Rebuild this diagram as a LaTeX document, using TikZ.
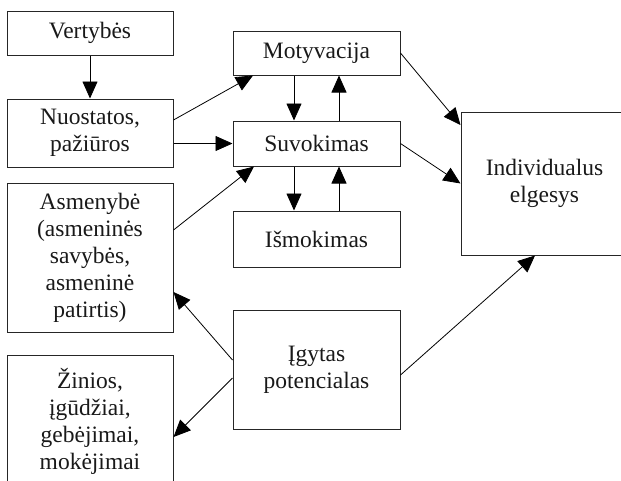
\documentclass[tikz,border=0pt]{standalone}
\usepackage{fontspec}
\setmainfont{Liberation Serif}
\usetikzlibrary{arrows.meta}
\begin{document}
\begin{tikzpicture}[x=1pt,y=-1pt,
  box/.style={draw=black!85, line width=1pt, inner sep=0pt, align=center,
    font=\fontsize{23.5}{27}\selectfont, text=black!90},
  arr/.style={line width=0.8pt, -{Triangle[length=17pt,width=15pt]}}]
\useasboundingbox (0,0) rectangle (621,480);
\clip (0,0) rectangle (621,480);
\node[box, minimum width=166, minimum height=44] (V) at (90,33) {Vertybės};
\node[box, minimum width=166, minimum height=68] (N) at (90,133) {Nuostatos,\\pažiūros};
\node[box, minimum width=166, minimum height=149] (A) at (90,257.5) {Asmenybė\\(asmeninės\\savybės,\\asmeninė\\patirtis)};
\node[box, minimum width=166, minimum height=132] (Z) at (90,421) {Žinios,\\įgūdžiai,\\gebėjimai,\\mokėjimai};
\node[box, minimum width=167, minimum height=44] (M) at (316.5,53) {Motyvacija};
\node[box, minimum width=167, minimum height=45] (S) at (316.5,143.5) {Suvokimas};
\node[box, minimum width=167, minimum height=56] (I) at (316.5,239) {Išmokimas};
\node[box, minimum width=167, minimum height=119] (G) at (316.5,369.5) {Įgytas\\potencialas};
\node[box, minimum width=167, minimum height=143] (E) at (544.5,183.5) {Individualus\\elgesys};
\draw[arr] (V.south) -- (N.north);
\draw[arr] ([yshift=13pt]N.east) -- ([xshift=-63.5pt]M.south);
\draw[arr] (N.east |- S.west) -- (S.west);
\draw[arr] ([yshift=27.5pt]A.east) -- ([xshift=-62.5pt]S.south);
\draw[arr] ([xshift=-22.5pt]M.south) -- ([xshift=-22.5pt]S.north);
\draw[arr] ([xshift=22.5pt]S.north) -- ([xshift=22.5pt]M.south);
\draw[arr] ([xshift=-22.5pt]S.south) -- ([xshift=-22.5pt]I.north);
\draw[arr] ([xshift=22.5pt]I.north) -- ([xshift=22.5pt]S.south);
\draw[arr] (M.east) -- ([yshift=58.5pt]E.west);
\draw[arr] (S.east) -- (E.west);
\draw[arr] ([yshift=9.5pt]G.west) -- ([yshift=-34.5pt]A.east);
\draw[arr] ([yshift=-8.5pt]G.west) -- ([yshift=-16pt]Z.east);
\draw[arr] ([yshift=-5.5pt]G.east) -- ([xshift=-9.5pt]E.south);
\end{tikzpicture}
\end{document}
